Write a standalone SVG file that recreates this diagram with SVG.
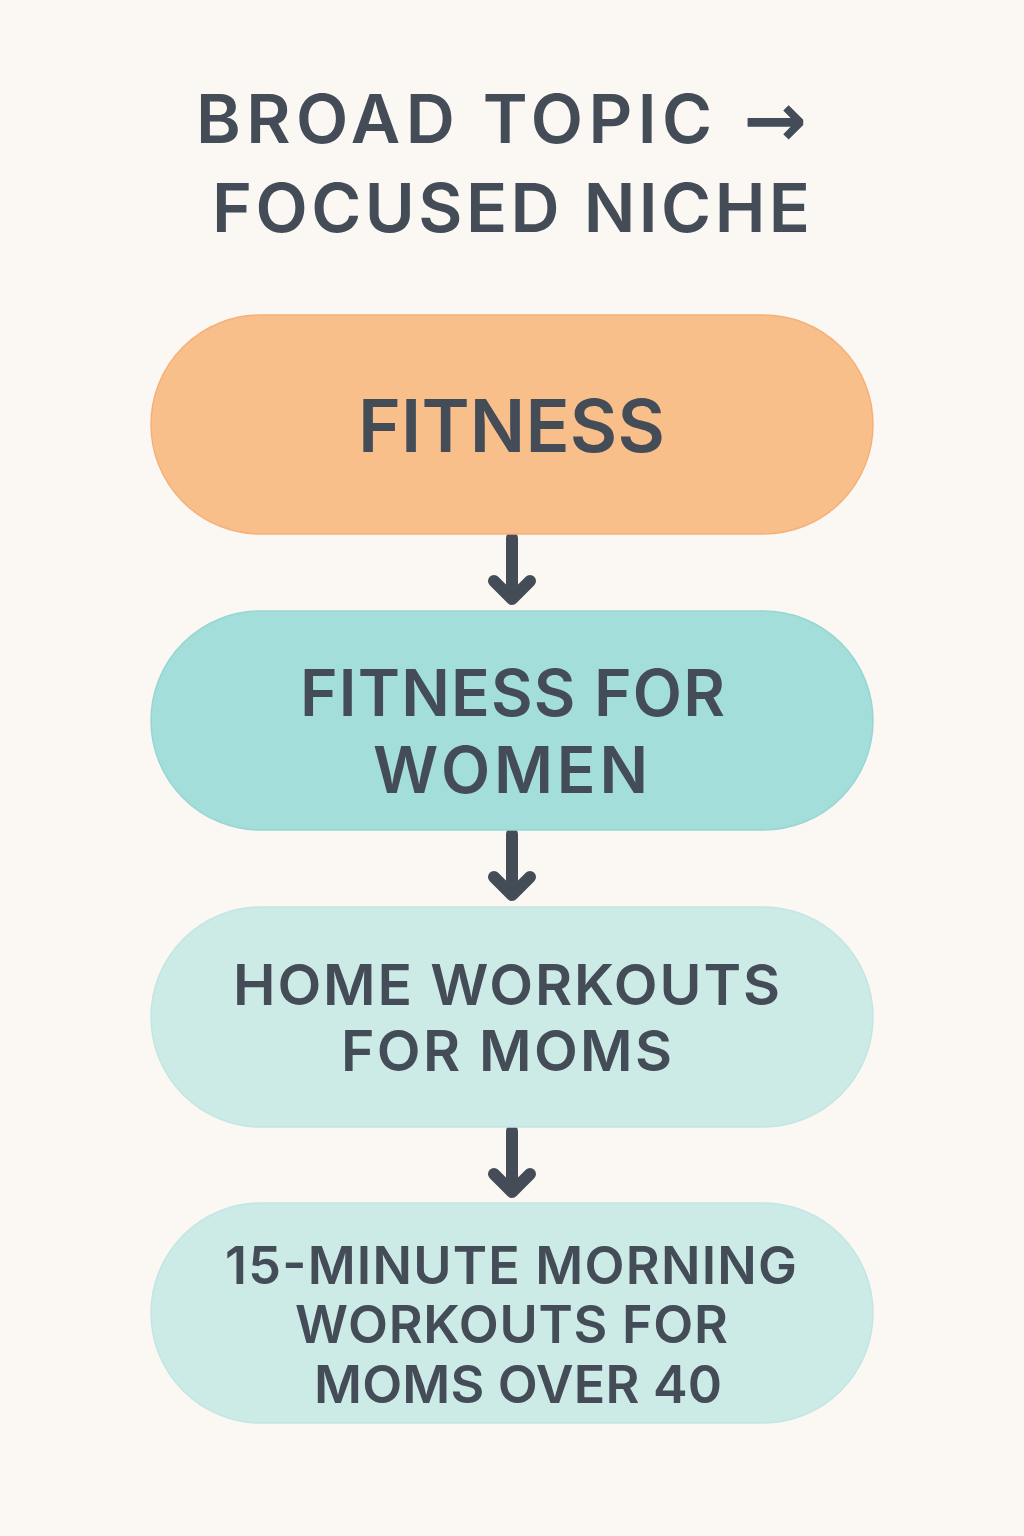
<svg xmlns="http://www.w3.org/2000/svg" width="1024" height="1536" viewBox="0 0 1024 1536">
<style>
.t{font-family:Inter,"Noto Sans","Liberation Sans",sans-serif;font-weight:600;fill:#444C58;text-anchor:middle}
.pill{stroke-width:1.5}
.arr{fill:none;stroke:#444C58;stroke-width:12;stroke-linecap:round;stroke-linejoin:round}
</style>
<rect width="1024" height="1536" fill="#FBF7F3"/>
<g id="title">
<text class="t" x="454" y="143" font-size="68" textLength="516" lengthAdjust="spacing">BROAD TOPIC</text>
<text x="775" y="146" font-family="DejaVu Sans,sans-serif" font-weight="bold" font-size="76" fill="#444C58" text-anchor="middle">→</text>
<text class="t" x="511" y="232" font-size="68" textLength="598" lengthAdjust="spacing">FOCUSED NICHE</text>
</g>
<g id="connectors">
<path class="arr" d="M512 538V598M494 581L512 599L530 581"/>
<path class="arr" d="M512 834V894M494 877L512 895L530 877"/>
<path class="arr" d="M512 1131V1191M494 1174L512 1192L530 1174"/>
</g>
<g id="node1">
<rect class="pill" x="151" y="315" width="722" height="219" rx="109.5" fill="#F9BF8B" stroke="#F5B07A"/>
<text class="t" x="511.5" y="452" font-size="73" textLength="307" lengthAdjust="spacing">FITNESS</text>
</g>
<g id="node2">
<rect class="pill" x="151" y="611" width="722" height="219" rx="109.5" fill="#A3DEDA" stroke="#97D6D2"/>
<text class="t" x="512.5" y="716" font-size="64" textLength="425" lengthAdjust="spacing">FITNESS FOR</text>
<text class="t" x="510.5" y="793" font-size="64" textLength="275" lengthAdjust="spacing">WOMEN</text>
</g>
<g id="node3">
<rect class="pill" x="151" y="907" width="722" height="220" rx="110" fill="#CCEBE7" stroke="#C2E6E2"/>
<text class="t" x="506.5" y="1005" font-size="57" textLength="547" lengthAdjust="spacing">HOME WORKOUTS</text>
<text class="t" x="506.5" y="1071" font-size="57" textLength="331" lengthAdjust="spacing">FOR MOMS</text>
</g>
<g id="node4">
<rect class="pill" x="151" y="1203" width="722" height="220" rx="110" fill="#CCEBE7" stroke="#C2E6E2"/>
<text class="t" x="511" y="1284" font-size="52" textLength="572" lengthAdjust="spacing">15-MINUTE MORNING</text>
<text class="t" x="511.5" y="1343" font-size="52" textLength="433" lengthAdjust="spacing">WORKOUTS FOR</text>
<text class="t" x="518" y="1403" font-size="52" textLength="408" lengthAdjust="spacing">MOMS OVER 40</text>
</g>
</svg>
